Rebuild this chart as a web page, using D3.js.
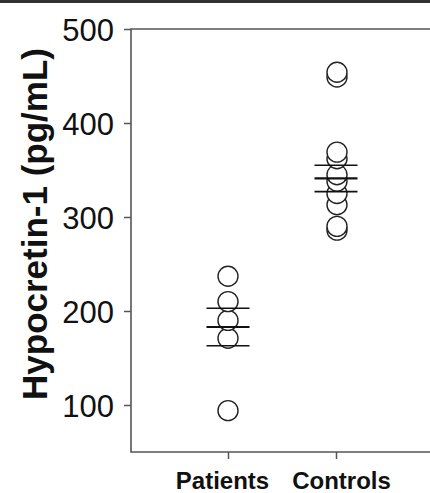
<!DOCTYPE html>
<html>
<head>
<meta charset="utf-8">
<script src="https://cdn.jsdelivr.net/npm/d3@7"></script>
<style>
  body { margin: 0; background: #fff; }
  svg { display: block; }
  .tick text { font-family: "Liberation Sans", Arial, sans-serif; }
</style>
</head>
<body>
<div id="chart"></div>
<script>
// 数据
const groups = ["Patients", "Controls"];
const patients = [237, 210, 190, 171, 94];
const controls = [454, 449, 369, 362, 345, 338, 325, 313, 290, 286];
const means = [183, 341];
const sems = [20, 14];
const yTicks = [100, 200, 300, 400, 500];

const W = 430, H = 493;
const plotLeft = 131, plotTop = 29, plotBottom = 452;

const svg = d3.select("#chart").append("svg")
  .attr("width", W).attr("height", H);

// 顶部黑边
svg.append("rect").attr("x", 0).attr("y", 0).attr("width", W).attr("height", 3).attr("fill", "#333");

const x = d3.scalePoint().domain(groups).range([228, 336]);
const y = d3.scaleLinear().domain([50, 500]).range([plotBottom, plotTop]);

// 框线
const frame = "#555";
svg.append("path")
  .attr("d", `M${W + 2},${plotTop}H${plotLeft}V${plotBottom}H${W + 2}`)
  .attr("fill", "none").attr("stroke", frame).attr("stroke-width", 1.6);

// y 轴
const yAxis = svg.append("g")
  .attr("transform", `translate(${plotLeft},0)`)
  .call(d3.axisLeft(y).tickValues(yTicks).tickSize(7).tickPadding(10));
yAxis.select(".domain").remove();
yAxis.selectAll(".tick line").attr("stroke", frame).attr("stroke-width", 1.5);
yAxis.selectAll(".tick text").attr("font-size", 31).attr("fill", "#111").attr("dy", "0.36em");

// x 轴
const xAxis = svg.append("g")
  .attr("transform", `translate(0,${plotBottom})`)
  .call(d3.axisBottom(x).tickSize(7).tickPadding(13));
xAxis.select(".domain").remove();
xAxis.selectAll(".tick line").attr("stroke", frame).attr("stroke-width", 1.5);
xAxis.selectAll(".tick text")
  .attr("font-size", 24).attr("font-weight", "bold").attr("fill", "#111")
  .attr("dx", (d, i) => (i === 0 ? -6 : 5));

// y 轴标题
svg.append("text")
  .attr("transform", `translate(47,224) rotate(-90)`)
  .attr("text-anchor", "middle")
  .attr("font-family", "Liberation Sans, Arial, sans-serif")
  .attr("font-size", 35).attr("font-weight", "bold").attr("fill", "#111")
  .text("Hypocretin-1 (pg/mL)");

// 散点（低值先画，高值覆盖在上）
const pts = [
  ...patients.map(v => ({ g: "Patients", v })),
  ...controls.map(v => ({ g: "Controls", v }))
].sort((a, b) => a.v - b.v);

svg.selectAll("circle.pt").data(pts).join("circle")
  .attr("class", "pt")
  .attr("cx", d => x(d.g) + (d.g === "Controls" ? 1 : 0))
  .attr("cy", d => y(d.v))
  .attr("r", 10)
  .attr("fill", "#fff").attr("stroke", "#222").attr("stroke-width", 1.4);

// 均值与标准误
const bars = groups.map((g, i) => ({ g, m: means[i], s: sems[i] }));
const half = 21.5;
bars.forEach(b => {
  [[b.m + b.s, 1.6], [b.m, 2.2], [b.m - b.s, 1.6]].forEach(([v, w]) => {
    svg.append("line")
      .attr("x1", x(b.g) - half).attr("x2", x(b.g) + half)
      .attr("y1", y(v)).attr("y2", y(v))
      .attr("stroke", "#111").attr("stroke-width", w);
  });
});
</script>
</body>
</html>
